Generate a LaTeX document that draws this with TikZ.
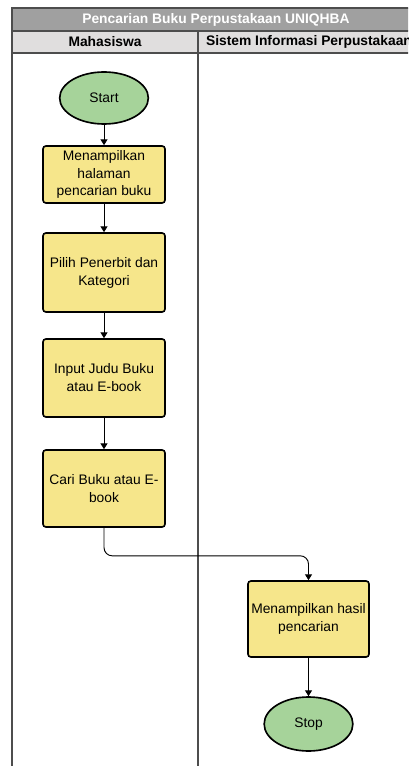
\documentclass[tikz,border=0pt]{standalone}
\usepackage{fontspec}
\setmainfont{Liberation Sans}
\usepackage{tikz}
\usetikzlibrary{shapes.geometric, arrows.meta, positioning}
\definecolor{procbg}{HTML}{F6E68B}
\definecolor{termbg}{HTML}{A6D39A}
\definecolor{titlebg}{HTML}{A0A0A0}
\definecolor{headbg}{HTML}{E0DEDE}
\definecolor{lanegray}{HTML}{4D4D4D}

\begin{document}
\begin{tikzpicture}[x=0.03cm, y=-0.03cm,
    box/.style={rectangle, rounded corners=2.5pt, draw, line width=1.4pt, fill=procbg, inner sep=0pt,
        minimum width=3.66cm, align=center, font=\fontsize{11.8}{15.3}\selectfont},
    term/.style={ellipse, draw, line width=1.4pt, fill=termbg, inner sep=0pt,
        minimum width=2.66cm, minimum height=1.56cm, font=\fontsize{11.8}{15.3}\selectfont},
    head/.style={font=\fontsize{11.8}{14}\selectfont\bfseries, inner sep=0pt},
    arrow/.style={-{Triangle[length=5pt, width=6pt]}, line width=0.8pt}
]
\clip (0,0) rectangle (408,766);
% pool and lanes
\fill[titlebg] (12,8) rectangle (420,31);
\fill[headbg] (12,31) rectangle (420,53);
\draw[lanegray, line width=1.4pt] (12,790) -- (12,8) -- (420,8);
\draw[lanegray, line width=1.2pt] (12,31) -- (420,31);
\draw[lanegray, line width=1.2pt] (12,53) -- (420,53);
\draw[lanegray, line width=1.2pt] (198,31) -- (198,790);
\node[head, text=white] (title) at (216,19.5) {Pencarian Buku Perpustakaan UNIQHBA};
\node[head] (mhs) at (105,42) {Mahasiswa};
\node[head] (sistem) at (309,42) {Sistem Informasi Perpustakaan};

\node[term] (start) at (104,98) {Start};
\node[box, minimum height=1.71cm] (tampil) at (104,174.5) {Menampilkan\\halaman\\pencarian buku};
\node[box, minimum height=2.37cm] (pilih) at (104,272.5) {Pilih Penerbit dan\\Kategori};
\node[box, minimum height=2.34cm] (input) at (104,378) {Input Judu Buku\\atau E-book};
\node[box, minimum height=2.31cm] (cari) at (104,488.5) {Cari Buku atau E-\\book};
\node[box, minimum width=3.63cm, minimum height=2.28cm] (hasil) at (308.5,619) {Menampilkan hasil\\pencarian};
\node[term, minimum height=1.62cm] (stop) at (308.5,724) {Stop};

\draw[arrow] (start) -- (tampil);
\draw[arrow] (tampil) -- (pilih);
\draw[arrow] (pilih) -- (input);
\draw[arrow] (input) -- (cari);
\draw[arrow, rounded corners=7pt] (cari.south) -- ++(0,28) -| (hasil.north);
\draw[arrow] (hasil) -- (stop);
\end{tikzpicture}
\end{document}
